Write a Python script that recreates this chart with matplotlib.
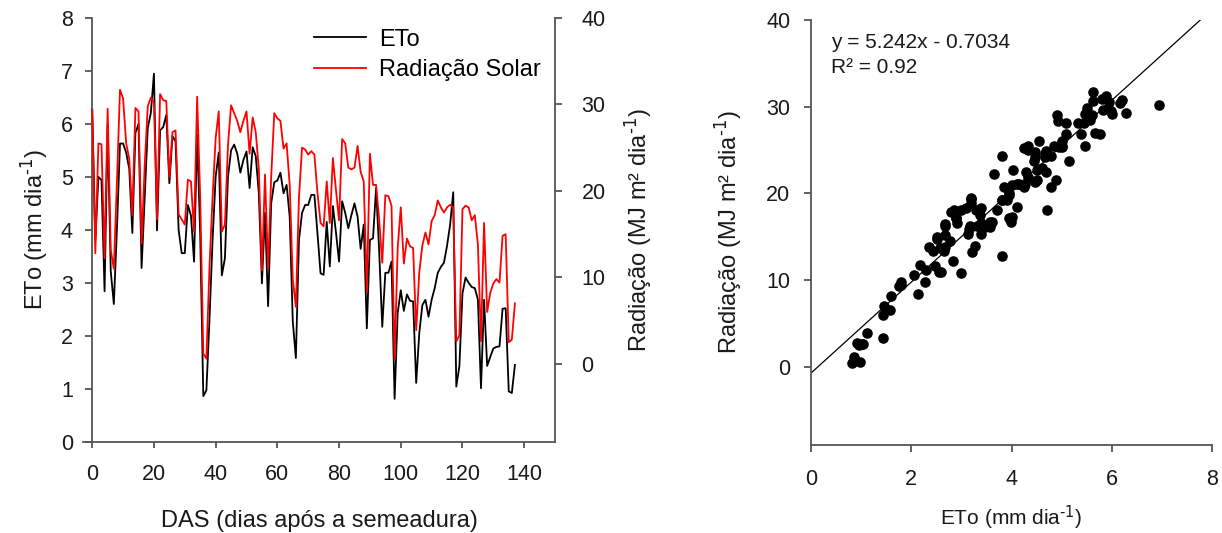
import numpy as np
import matplotlib
matplotlib.use('Agg')
import matplotlib.pyplot as plt

plt.rcParams['font.family'] = ['Liberation Sans', 'DejaVu Sans']
plt.rcParams['mathtext.default'] = 'regular'

# daily series, DAS 0..137
days = np.arange(138)
eto = [6.28, 3.80, 5.00, 4.94, 2.84, 5.99, 3.22, 2.60, 4.00, 5.63,
       5.63, 5.46, 5.15, 3.94, 5.83, 6.00, 3.28, 4.60, 5.92, 6.21,
       6.95, 3.99, 5.88, 5.94, 6.17, 4.88, 5.77, 5.67, 4.00, 3.56,
       3.56, 4.47, 4.27, 3.40, 5.80, 3.90, 0.86, 0.97, 2.30, 3.80,
       5.00, 5.46, 3.14, 3.46, 5.00, 5.50, 5.61, 5.44, 5.08, 5.32,
       5.48, 4.79, 5.56, 5.39, 4.69, 2.99, 4.32, 2.56, 4.50, 4.90,
       4.93, 5.08, 4.69, 4.85, 4.25, 2.27, 1.58, 3.80, 4.32, 4.47,
       4.47, 4.66, 4.66, 3.94, 3.18, 3.15, 4.15, 3.31, 4.45, 3.95,
       3.40, 4.54, 4.32, 4.03, 4.28, 4.50, 4.25, 3.64, 4.10, 2.14,
       3.81, 3.84, 4.79, 3.60, 2.17, 3.19, 3.19, 3.40, 0.81, 2.43,
       2.86, 2.47, 2.78, 2.66, 2.65, 1.11, 2.05, 2.58, 2.68, 2.36,
       2.68, 2.90, 3.19, 3.30, 3.38, 3.70, 4.10, 4.71, 1.04, 1.43,
       2.80, 3.10, 3.00, 2.92, 2.90, 2.68, 1.01, 2.68, 1.43, 1.60,
       1.76, 1.79, 1.80, 2.51, 2.52, 0.95, 0.92, 1.45]
radiacao = [29.3, 12.8, 25.5, 25.4, 12.2, 29.5, 13.2, 11.0, 21.0, 31.7,
            30.7, 25.5, 23.7, 17.2, 29.6, 29.2, 13.9, 22.9, 29.8, 30.8,
            30.2, 16.7, 31.2, 30.5, 30.4, 21.6, 26.8, 27.0, 17.3, 16.7,
            16.1, 21.3, 21.1, 15.3, 30.9, 19.2, 1.2, 0.6, 11.2, 19.2,
            26.1, 29.2, 15.3, 16.1, 25.3, 29.9, 29.0, 28.1, 26.8, 28.1,
            29.2, 24.3, 28.5, 26.8, 22.5, 10.8, 21.9, 11.0, 21.6, 29.0,
            28.4, 28.1, 24.9, 25.5, 20.7, 9.8, 6.6, 19.2, 25.0, 24.8,
            24.2, 24.6, 24.2, 19.8, 16.3, 15.9, 21.1, 16.3, 23.8, 20.1,
            16.6, 26.0, 25.5, 22.7, 22.5, 22.7, 25.2, 22.2, 21.1, 8.4,
            24.3, 20.7, 20.7, 16.7, 11.7, 19.5, 19.4, 18.3, 0.5, 13.4,
            18.1, 11.6, 14.5, 13.6, 13.4, 3.9, 10.6, 13.7, 15.2, 13.8,
            16.5, 17.2, 18.9, 18.1, 17.5, 18.1, 18.4, 18.1, 2.6, 3.3,
            17.9, 18.3, 18.1, 16.6, 17.2, 13.8, 2.6, 16.3, 6.0, 8.2,
            9.3, 9.8, 9.4, 14.8, 15.0, 2.5, 2.8, 7.0]

# linear fit reported on the scatter panel
slope, intercept = 5.242, -0.7034
eq_text = 'y = 5.242x - 0.7034'
r2_text = 'R² = 0.92'

eto_label = r'ETo (mm dia$^{\text{-1}}$)'
rad_label = r'Radiação (MJ m² dia$^{\text{-1}}$)'

axis_color = '#555555'
text_color = '#1a1a1a'

fig = plt.figure(figsize=(12.22, 5.33), dpi=100)

# left panel: time series with two y axes
ax1 = fig.add_axes([0.0679, 0.1713, 0.3863, 0.7949])
ax1.plot(days, eto, color='black', lw=1.3, label='ETo')
ax1.set_xlim(-3, 150)
ax1.set_ylim(0, 8)
ax1.set_xticks(np.arange(0, 141, 20))
ax1.set_yticks(np.arange(0, 9, 1))
ax1.spines['left'].set_position(('data', 0))
ax1.spines['top'].set_visible(False)
ax1.spines['right'].set_visible(False)
ax1.set_xlabel('DAS (dias após a semeadura)', fontsize=17, labelpad=18)
ax1.set_ylabel(eto_label, fontsize=17, labelpad=8)

ax2 = ax1.twinx()
ax2.plot(days, radiacao, color='red', lw=1.3, label='Radiação Solar')
ax2.set_ylim(-9, 40)
ax2.set_yticks(np.arange(0, 41, 10))
for side in ['left', 'top', 'bottom']:
    ax2.spines[side].set_visible(False)
ax2.set_ylabel(rad_label, fontsize=17, labelpad=12)

h1, l1 = ax1.get_legend_handles_labels()
h2, l2 = ax2.get_legend_handles_labels()
ax2.legend(h1 + h2, l1 + l2, loc='upper left', bbox_to_anchor=(0.489, 0.975),
           frameon=False, fontsize=17, handlelength=2.2, handletextpad=0.55,
           labelspacing=0.35, borderpad=0, borderaxespad=0)

ax1.tick_params(axis='y', direction='out', length=5, pad=9, labelsize=15.5)
ax1.tick_params(axis='x', direction='out', length=4, pad=12, labelsize=15.5)
ax2.tick_params(axis='y', direction='out', length=5, pad=14, labelsize=15.5)

# right panel: ETo vs radiation scatter
ax3 = fig.add_axes([0.6637, 0.1651, 0.3282, 0.7974])
ax3.scatter(eto, radiacao, s=58, color='black', zorder=3, linewidths=0)
x_end = (40 - intercept) / slope
xs = np.array([0, x_end])
ax3.plot(xs, slope * xs + intercept, color='black', lw=0.9, zorder=2)
ax3.set_xlim(0, 8)
ax3.set_ylim(-9, 40)
ax3.set_xticks(np.arange(0, 9, 2))
ax3.set_yticks(np.arange(0, 41, 10))
ax3.spines['top'].set_visible(False)
ax3.spines['right'].set_visible(False)
ax3.set_xlabel(eto_label, fontsize=15, labelpad=10)
ax3.set_ylabel(rad_label, fontsize=17, labelpad=16)
ax3.tick_params(axis='both', direction='out', length=5, labelsize=15.5)
ax3.tick_params(axis='x', pad=12)
ax3.tick_params(axis='y', pad=10)
ax3.text(0.05, 0.948, eq_text, transform=ax3.transAxes, fontsize=15,
         va='center', ha='left', color=text_color)
ax3.text(0.05, 0.889, r2_text, transform=ax3.transAxes, fontsize=15,
         va='center', ha='left', color=text_color)

for ax in (ax1, ax2, ax3):
    for sp in ax.spines.values():
        sp.set_color(axis_color)
        sp.set_linewidth(1.3)
    ax.tick_params(colors=axis_color, labelcolor=text_color, width=1.3)
    ax.xaxis.label.set_color(text_color)
    ax.yaxis.label.set_color(text_color)

fig.savefig('out.png', dpi=100)
